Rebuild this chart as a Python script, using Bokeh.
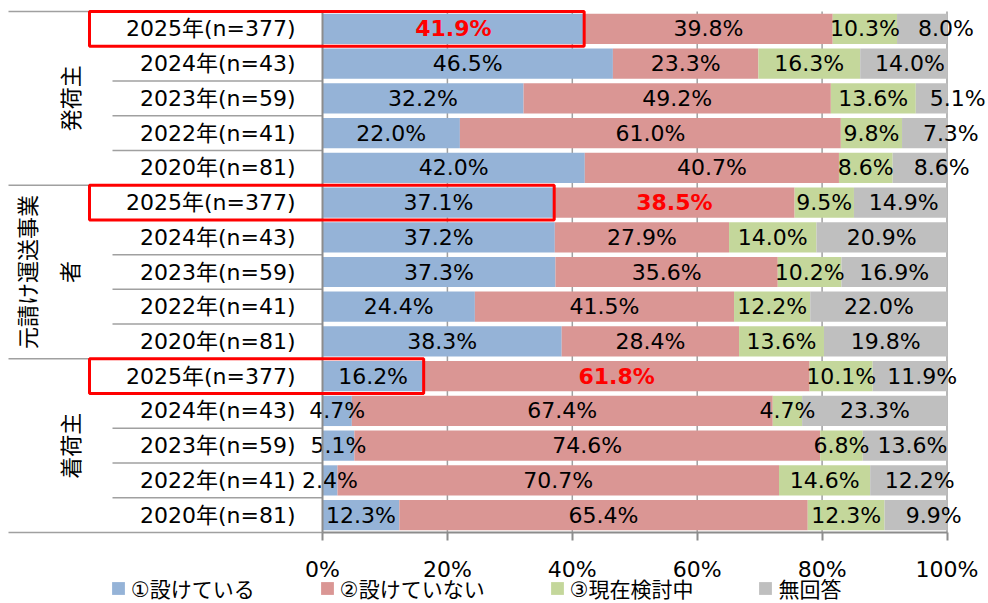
import math
import numpy as np
from bokeh.plotting import figure
from bokeh.models import (ColumnDataSource, FixedTicker, Legend, LegendItem, Range1d, LinearAxis)
from bokeh.core.properties import value
from bokeh.embed import file_html
from bokeh.resources import INLINE

# ---------------- data ----------------
groups = ["発荷主", "元請け運送事業\n者", "着荷主"]
years = ["2025年(n=377)", "2024年(n=43)", "2023年(n=59)", "2022年(n=41)", "2020年(n=81)"]
series = ["①設けている", "②設けていない", "③現在検討中", "無回答"]

s1 = [41.9, 46.5, 32.2, 22.0, 42.0, 37.1, 37.2, 37.3, 24.4, 38.3, 16.2, 4.7, 5.1, 2.4, 12.3]
s2 = [39.8, 23.3, 49.2, 61.0, 40.7, 38.5, 27.9, 35.6, 41.5, 28.4, 61.8, 67.4, 74.6, 70.7, 65.4]
s3 = [10.3, 16.3, 13.6, 9.8, 8.6, 9.5, 14.0, 10.2, 12.2, 13.6, 10.1, 4.7, 6.8, 14.6, 12.3]
s4 = [8.0, 14.0, 5.1, 7.3, 8.6, 14.9, 20.9, 16.9, 22.0, 19.8, 11.9, 23.3, 13.6, 12.2, 9.9]
# series index highlighted (bold red) in the 2025 row of each group
highlight = [0, 1, 1]
ticks = [0, 20, 40, 60, 80, 100]

# ---------------- style / layout ----------------
colors = ["#95b3d7", "#da9694", "#c4d79b", "#bfbfbf"]
FRAME_W, FRAME_H = 988, 603
PX0 = 322.0          # frame x of 0%
PX_PER = 6.245       # pixels per percent
ROW_TOP = 11.0       # frame y of first row's top edge
ROW_BOT = 532.0      # frame y of last row's bottom edge (x axis line)
GRAY = "#a0a0a0"
AXC = "#8c8c8c"
LATIN = "DejaVu Sans"
CJK = "Noto Sans CJK JP"
MIX = "DejaVu Sans, Noto Sans CJK JP"


def px(frame_x):
    return (frame_x - PX0) / PX_PER


ng = len(groups)
ny = len(years)
n = ng * ny
row_px = (ROW_BOT - ROW_TOP) / n
vals = [s1, s2, s3, s4]
row_labels = years * ng
yc = [i + 0.5 for i in range(n)]

p = figure(frame_width=FRAME_W, frame_height=FRAME_H, output_backend="svg",
           toolbar_location=None, y_axis_location=None, x_axis_location=None,
           x_range=Range1d(px(0), px(FRAME_W)),
           y_range=Range1d(n + (FRAME_H - ROW_BOT) / row_px, -ROW_TOP / row_px),
           min_border=0, min_border_left=0, min_border_right=0,
           min_border_top=0, min_border_bottom=0)
p.outline_line_color = None
p.grid.visible = False

# vertical grid lines at the ticks (within the rows only)
gt = ticks[1:]
p.segment(x0=gt, x1=gt, y0=[0] * len(gt), y1=[n] * len(gt),
          line_color=GRAY, line_width=1.5)

# bars
renderers = []
cum = np.zeros(n)
centers = []
for j, v in enumerate(vals):
    v = np.array(v)
    src = ColumnDataSource(dict(y=yc, left=cum, right=cum + v))
    r = p.hbar(y="y", left="left", right="right", height=0.87, source=src,
               fill_color=colors[j], line_color=None)
    renderers.append(r)
    centers.append(cum + v / 2)
    cum = cum + v

# data labels
lx, ly, lt, lc, ls, lo = [], [], [], [], [], []
for j, v in enumerate(vals):
    for i in range(n):
        g, k = divmod(i, ny)
        hl = (k == 0 and highlight[g] == j)
        lx.append(centers[j][i])
        ly.append(yc[i])
        lt.append(f"{v[i]:.1f}%")
        lc.append("#ff0000" if hl else "#000000")
        ls.append("bold" if hl else "normal")
        lo.append(max(0.0, min(26.0, (16 - v[i]) * 3)) if j == 3 else 0.0)
p.text(x="x", y="y", text="t", source=ColumnDataSource(dict(x=lx, y=ly, t=lt, c=lc, s=ls, o=lo)),
       text_color="c", text_font_style="s", x_offset="o",
       text_font=value(LATIN), text_font_size="22px",
       text_align="center", text_baseline="middle")

# row labels
p.text(x=[0] * n, y=yc, text=row_labels, x_offset=-27,
       text_font=value(MIX), text_font_size="22px", text_color="#000000",
       text_align="right", text_baseline="middle")

# group labels (rotated, reading bottom to top)
p.text(x=[0] * ng, y=[g * ny + ny / 2 for g in range(ng)], text=groups,
       angle=math.pi / 2, x_offset=-238, text_line_height=1.32,
       text_font=value(CJK), text_font_size="22px", text_color="#000000",
       text_align="center", text_baseline="bottom")

# separators in label area
sx0, sx1, sy = [], [], []
for i in range(n + 1):
    sx0.append(px(8) if i % ny == 0 else px(112))
    sx1.append(0)
    sy.append(i)
p.segment(x0=sx0, x1=sx1, y0=sy, y1=sy, line_color=GRAY, line_width=1.5)

# vertical axis line at 0%
p.segment(x0=[0], x1=[0], y0=[0], y1=[n], line_color=AXC, line_width=2)

# red highlight boxes: label + first series bar of each group's 2025 row
hy = [g * ny for g in range(ng)]
p.quad(left=[px(89)] * ng, right=[s1[g * ny] for g in range(ng)],
       top=hy, bottom=[h + 1 for h in hy],
       fill_color=None, line_color="#ff0000", line_width=3)

# x axis, pinned to the bottom edge of the last row
xa = LinearAxis(fixed_location=n)
xa.ticker = FixedTicker(ticks=ticks)
xa.major_label_overrides = {t: f"{t}%" for t in ticks}
xa.bounds = (0, 100)
xa.axis_line_color = AXC
xa.axis_line_width = 2
xa.major_tick_line_color = AXC
xa.major_tick_line_width = 2
xa.major_tick_in = 0
xa.major_tick_out = 8
xa.minor_tick_line_color = None
xa.major_label_standoff = 16
xa.major_label_text_font = LATIN
xa.major_label_text_font_size = "22px"
xa.major_label_text_color = "#000000"
p.add_layout(xa, "below")

legend = Legend(items=[LegendItem(label=series[j], renderers=[renderers[j]]) for j in range(4)],
                orientation="horizontal", location=(110, 0),
                glyph_width=16, glyph_height=16, label_standoff=5, spacing=64,
                padding=0, margin=0, border_line_color=None, background_fill_alpha=0,
                label_text_font=MIX, label_text_font_size="21px",
                label_text_color="#000000", label_height=18)
p.add_layout(legend, "center")

open("out.html", "w").write(file_html(p, INLINE))
